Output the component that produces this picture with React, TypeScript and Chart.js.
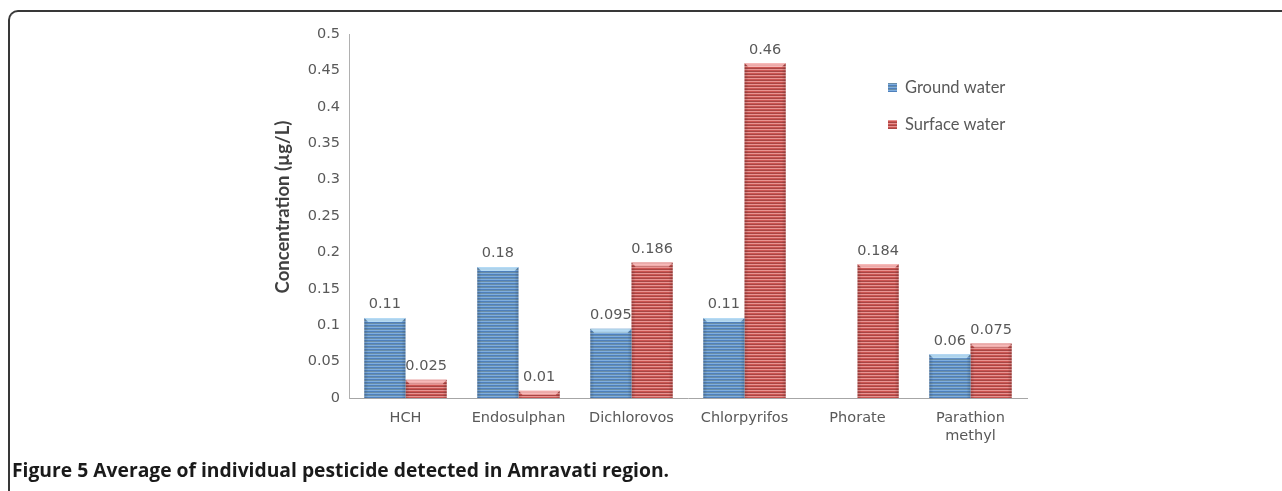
import React, { useEffect, useRef } from "react";
import { Chart, registerables } from "chart.js";

Chart.register(...registerables);

const categories: (string | string[])[] = [
  "HCH",
  "Endosulphan",
  "Dichlorovos",
  "Chlorpyrifos",
  "Phorate",
  ["Parathion", "methyl"],
];
const groundWater: (number | null)[] = [0.11, 0.18, 0.095, 0.11, null, 0.06];
const surfaceWater: (number | null)[] = [0.025, 0.01, 0.186, 0.46, 0.184, 0.075];
const groundLabels: (string | null)[] = ["0.11", "0.18", "0.095", "0.11", null, "0.06"];
const surfaceLabels: (string | null)[] = ["0.025", "0.01", "0.186", "0.46", "0.184", "0.075"];
const seriesNames = ["Ground water", "Surface water"];
const yTicks = [0, 0.05, 0.1, 0.15, 0.2, 0.25, 0.3, 0.35, 0.4, 0.45, 0.5];
const yTitle = "Concentration (µg/L)";

function stripePattern(colors: string[]): CanvasPattern | string {
  const c = document.createElement("canvas");
  c.width = 4;
  c.height = colors.length;
  const ctx = c.getContext("2d");
  if (!ctx) return colors[0];
  colors.forEach((col, i) => {
    ctx.fillStyle = col;
    ctx.fillRect(0, i, 4, 1);
  });
  return ctx.createPattern(c, "repeat") || colors[0];
}

const labelPlugin = {
  id: "valueLabels",
  afterDatasetsDraw(chart: any) {
    const ctx = chart.ctx;
    const labelsets = [groundLabels, surfaceLabels];
    chart.data.datasets.forEach((ds: any, di: number) => {
      const meta = chart.getDatasetMeta(di);
      meta.data.forEach((bar: any, i: number) => {
        const v = ds.data[i];
        if (v === null || v === undefined) return;
        const { x, y, base, width } = bar.getProps(["x", "y", "base", "width"], true);
        const left = x - width / 2;
        const right = x + width / 2;
        ctx.save();
        const g = ctx.createLinearGradient(left, 0, right, 0);
        g.addColorStop(0, "rgba(0,0,0,0.16)");
        g.addColorStop(0.1, "rgba(0,0,0,0)");
        g.addColorStop(0.9, "rgba(0,0,0,0)");
        g.addColorStop(1, "rgba(0,0,0,0.16)");
        ctx.fillStyle = g;
        ctx.fillRect(left, y, width, base - y);
        const h = Math.min(4, base - y);
        ctx.fillStyle = di === 0 ? "rgba(195,230,250,0.8)" : "rgba(250,195,195,0.8)";
        ctx.beginPath();
        ctx.moveTo(left, y);
        ctx.lineTo(right, y);
        ctx.lineTo(right - 4, y + h);
        ctx.lineTo(left + 4, y + h);
        ctx.closePath();
        ctx.fill();
        const txt = labelsets[di][i];
        if (txt) {
          ctx.fillStyle = "#595959";
          ctx.font = "14.5px 'DejaVu Sans'";
          ctx.textAlign = "center";
          ctx.textBaseline = "bottom";
          ctx.fillText(txt, x, y - 6);
        }
        ctx.restore();
      });
    });
  },
};

const overlayPlugin = {
  id: "overlay",
  afterDraw(chart: any) {
    const ctx = chart.ctx;
    ctx.save();
    [0, 1].forEach((i) => {
      const cy = 88 + i * 37;
      ctx.fillStyle = chart.data.datasets[i].backgroundColor;
      ctx.fillRect(888, cy - 5, 9, 9);
      ctx.fillStyle = "#595959";
      ctx.font = "16.5px Lato";
      ctx.textAlign = "left";
      ctx.textBaseline = "middle";
      ctx.fillText(seriesNames[i], 905, cy);
    });
    ctx.translate(283, 207);
    ctx.rotate(-Math.PI / 2);
    ctx.fillStyle = "#404040";
    ctx.font = "bold 18.5px Lato";
    ctx.textAlign = "center";
    ctx.textBaseline = "middle";
    ctx.fillText(yTitle, 0, 0);
    ctx.restore();
  },
};

export default function App() {
  const ref = useRef<HTMLCanvasElement | null>(null);
  useEffect(() => {
    if (!ref.current) return;
    const blue = stripePattern(["#7eaee0", "#4f80bb", "#6a8ea8"]);
    const red = stripePattern(["#e89492", "#cc5552", "#a84644"]);
    const chart = new Chart(ref.current, {
      type: "bar",
      data: {
        labels: categories as any,
        datasets: [
          { label: seriesNames[0], data: groundWater, backgroundColor: blue as any, borderWidth: 0 },
          { label: seriesNames[1], data: surfaceWater, backgroundColor: red as any, borderWidth: 0 },
        ],
      },
      options: {
        animation: false,
        responsive: false,
        maintainAspectRatio: false,
        devicePixelRatio: 1,
        layout: { padding: { left: 271, right: 255, top: 34, bottom: 2 } },
        datasets: { bar: { categoryPercentage: 0.73, barPercentage: 1 } },
        plugins: { legend: { display: false }, tooltip: { enabled: false } },
        scales: {
          x: {
            grid: { display: false, drawTicks: false },
            border: { display: true, color: "#a6a6a6", width: 1 },
            ticks: { color: "#595959", font: { family: "'DejaVu Sans'", size: 14.5 }, padding: 12, maxRotation: 0, autoSkip: false },
            afterFit: (s: any) => { s.height = 60; },
          },
          y: {
            min: 0,
            max: 0.5,
            afterBuildTicks: (s: any) => { s.ticks = yTicks.map((v) => ({ value: v })); },
            grid: { display: false, drawTicks: false },
            border: { display: true, color: "#b0b0b0", width: 1, dash: [1, 1] },
            ticks: { color: "#595959", font: { family: "'DejaVu Sans'", size: 14.5 }, padding: 9, callback: (v: any) => String(v) },
            title: { display: false },
            afterFit: (s: any) => { s.width = 78; },
          },
        },
      },
      plugins: [labelPlugin, overlayPlugin],
    });
    return () => chart.destroy();
  }, []);

  return (
    <div style={{ position: "fixed", left: 0, top: 0, width: 1282, height: 491, background: "#fff", overflow: "hidden" }}>
      <div
        style={{
          position: "absolute",
          left: 8,
          top: 10,
          width: 1400,
          height: 600,
          borderTop: "2px solid #383838",
          borderLeft: "2px solid #383838",
          borderTopLeftRadius: 10,
          boxSizing: "border-box",
        }}
      />
      <canvas ref={ref} width={1282} height={460} style={{ position: "absolute", left: 0, top: 0, width: 1282, height: 460 }} />
      <div
        style={{
          position: "absolute",
          left: 12,
          top: 457,
          fontFamily: "'Open Sans'",
          fontWeight: 700,
          fontSize: 19.3,
          color: "#1a1a1a",
          whiteSpace: "nowrap",
          lineHeight: "26px",
        }}
      >
        Figure 5 Average of individual pesticide detected in Amravati region.
      </div>
    </div>
  );
}
